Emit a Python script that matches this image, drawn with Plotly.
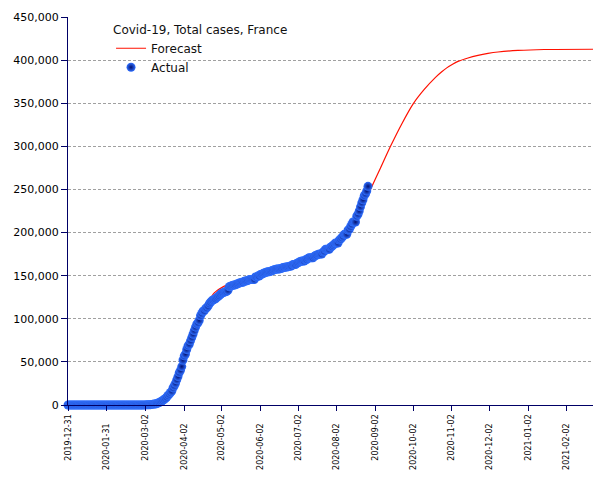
import plotly.graph_objects as go
import pandas as pd

# ---------------- data ----------------
actual_start = "2019-12-31"
actual_values = (
    [0] * 25 +
    [3, 3, 3, 3, 4, 5, 5] +                      # Jan 25 - Jan 31
    [6] * 8 + [11] * 7 + [12] * 10 +             # Feb 1 - Feb 25
    [14, 18, 38, 57] +                           # Feb 26 - Feb 29
    [100, 130, 191, 212, 285, 423, 653, 949, 1126, 1209,
     1784, 2281, 2876, 3661, 4499, 5423, 6633, 7730, 9134, 10995,
     12612, 14459, 16018, 19856, 22302, 25233, 29155, 32964, 37575, 40174,
     44550] +                                     # March
    [52128, 56989, 59105, 64338, 68605, 70478, 74390, 78167, 82048, 86334,
     90276, 93790, 95403, 98076, 103573, 106206, 108847, 109252, 111821, 112606,
     114657, 117324, 119151, 120804, 121760, 122577, 123279, 124575, 125770, 126835] +  # April
    [128442, 129581, 130185, 130979, 131287, 131863, 132967, 137150, 137779, 138421,
     138854, 139063, 139519, 140227, 140734, 141356, 141919, 142291, 142411, 143427,
     143845, 144163, 144556, 145279, 145555, 145555, 145555, 145555, 148524, 148524,
     149668] +                                    # May
    [149668, 151325, 151677, 152444, 153055, 153634, 154188, 154591, 154591, 155136,
     155561, 156287, 156813, 157220, 157716, 157716, 157716, 158174, 158641, 159452,
     159452, 160093, 160093, 160377, 160750, 161267, 161348, 162936, 162936, 162936] +  # June
    [164260, 164801, 165719, 166378, 166960, 166960, 166960, 168335, 168810, 170094,
     170752, 170752, 170752, 170752, 172377, 173304, 173838, 174674, 175027, 175027,
     175027, 177338, 178336, 180528, 180528, 180528, 180528, 183079, 183804, 185196,
     186573] +                                    # July
    [187919, 187919, 187919, 191295, 192334, 194029, 195633, 197921, 197921, 197921,
     202775, 203509, 206696, 209365, 212211, 212211, 212211, 219029, 221267, 225043,
     229814, 234400, 238002, 242899, 244854, 248158, 253587]                            # Aug 1 - Aug 27
)
actual_dates = pd.date_range(actual_start, periods=len(actual_values), freq="D")

forecast_dates = [
    "2019-12-31", "2020-03-01", "2020-03-08", "2020-03-15", "2020-03-22", "2020-03-29",
    "2020-04-05", "2020-04-12", "2020-04-19", "2020-04-26", "2020-05-03", "2020-05-10",
    "2020-05-17", "2020-05-24", "2020-05-31", "2020-06-07", "2020-06-14", "2020-06-21",
    "2020-06-28", "2020-07-05", "2020-07-12", "2020-07-19", "2020-07-26", "2020-08-02",
    "2020-08-09", "2020-08-16", "2020-08-23", "2020-08-29", "2020-09-06", "2020-09-14",
    "2020-09-23", "2020-10-02", "2020-10-11", "2020-10-20", "2020-10-25", "2020-10-29",
    "2020-11-03", "2020-11-07", "2020-11-15", "2020-11-23", "2020-12-01", "2020-12-09",
    "2020-12-25", "2021-01-15", "2021-02-23",
]
forecast_values = [
    0, 200, 1200, 5000, 15000, 37000,
    68000, 95000, 114000, 130000, 137000, 141000,
    144000, 147000, 149500, 152000, 154500, 157000,
    159800, 163000, 167000, 172500, 179500, 188000,
    198500, 213000, 232000, 250000, 275000, 300000,
    326000, 349000, 366000, 380000, 386500, 391000,
    395500, 398500, 402500, 405500, 407800, 409400,
    411200, 412300, 412600,
]

x_tick_dates = [
    "2019-12-31", "2020-01-31", "2020-03-02", "2020-04-02", "2020-05-02", "2020-06-02",
    "2020-07-02", "2020-08-02", "2020-09-02", "2020-10-02", "2020-11-02", "2020-12-02",
    "2021-01-02", "2021-02-02",
]
y_tick_values = [0, 50000, 100000, 150000, 200000, 250000, 300000, 350000, 400000, 450000]

title_text = "Covid-19, Total cases, France"

# ---------------- figure ----------------
NAVY = "#000066"
FONT = "DejaVu Sans"

# staggered tick labels (every other label pushed down)
x_tick_text = [d if i % 2 == 0 else d + "\u00a0\u00a0\u00a0\u2009" for i, d in enumerate(x_tick_dates)]

fig = go.Figure()
fig.add_trace(go.Scatter(
    x=forecast_dates, y=forecast_values, mode="lines", name="Forecast",
    line=dict(color="#ff1000", width=1.2, shape="spline", smoothing=0.6),
))
fig.add_trace(go.Scatter(
    x=actual_dates, y=actual_values, mode="markers", name="Actual",
    marker=dict(size=9, color="#3070ff", line=dict(width=0),
                gradient=dict(type="radial", color="#021070")),
    cliponaxis=False,
))

fig.update_layout(
    width=605, height=480,
    margin=dict(l=68, r=12, t=17, b=75),
    paper_bgcolor="white", plot_bgcolor="white",
    font=dict(family=FONT, size=12, color="#000000"),
    showlegend=True,
    legend=dict(
        title=dict(text=title_text, font=dict(family=FONT, size=12, color="#111111")),
        x=0.082, y=0.997, xanchor="left", yanchor="top",
        bgcolor="rgba(0,0,0,0)", borderwidth=0,
        font=dict(family=FONT, size=12, color="#111111"),
        tracegroupgap=0,
    ),
    xaxis=dict(
        type="date",
        range=["2019-12-31", "2021-02-23"],
        tickmode="array", tickvals=x_tick_dates, ticktext=x_tick_text,
        tickangle=-90, tickfont=dict(family=FONT, size=8, color="#000000"),
        ticks="outside", ticklen=5, tickcolor=NAVY, tickwidth=1,
        showline=True, linecolor=NAVY, linewidth=1,
        showgrid=False, zeroline=False, automargin=False,
    ),
    yaxis=dict(
        range=[0, 450000],
        tickmode="array", tickvals=y_tick_values,
        tickformat=",d",
        tickfont=dict(family=FONT, size=11, color="#000000"),
        ticks="outside", ticklen=6, tickcolor=NAVY, tickwidth=1,
        showline=True, linecolor=NAVY, linewidth=1,
        showgrid=True, gridcolor="#a0a0a0", gridwidth=1, griddash="3px,2px",
        zeroline=False, automargin=False,
    ),
)

fig.write_html("out.html")
